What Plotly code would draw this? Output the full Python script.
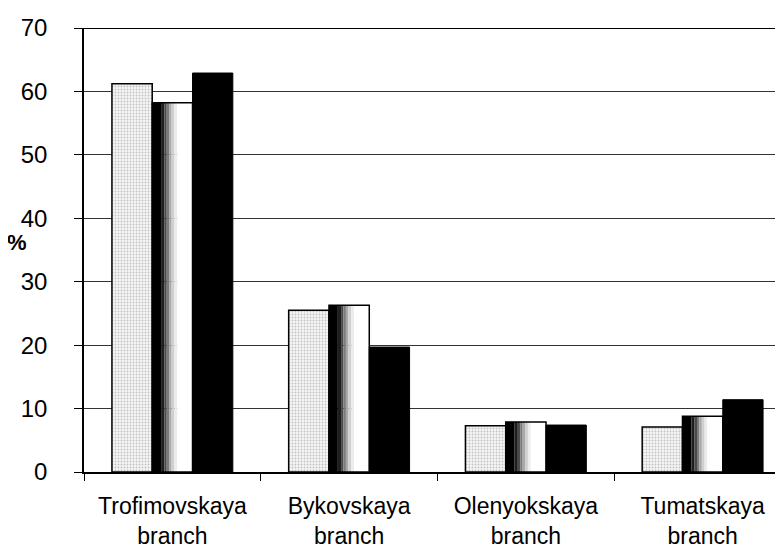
import plotly.graph_objects as go

categories = ["Trofimovskaya<br>branch", "Bykovskaya<br>branch", "Olenyokskaya<br>branch", "Tumatskaya<br>branch"]
series1 = [61.2, 25.5, 7.3, 7.1]
series2 = [58.2, 26.3, 7.9, 8.8]
series3 = [62.9, 19.7, 7.4, 11.4]
y_ticks = [0, 10, 20, 30, 40, 50, 60, 70]

BW = 0.228
FONT = "Liberation Sans, Arial, sans-serif"

fig = go.Figure()

# series 1: light dotted fill
fig.add_trace(go.Bar(
    x=categories, y=series1, width=BW, offset=-1.5 * BW,
    marker=dict(color="white",
                pattern=dict(shape=".", fgcolor="#8a8a8a", bgcolor="#f6f6f6", size=3, solidity=0.3),
                line=dict(color="black", width=1.5)),
    hoverinfo="y", showlegend=False))

# series 2: horizontal gradient from black (left) to white (right), drawn as slices
slices = [
    (0.00, 0.22, "#000000"),
    (0.22, 0.30, "#1e1e1e"),
    (0.30, 0.36, "#4a4a4a"),
    (0.36, 0.42, "#7a7a7a"),
    (0.42, 0.48, "#a8a8a8"),
    (0.48, 0.55, "#cfcfcf"),
    (0.55, 0.62, "#ececec"),
    (0.62, 1.00, "#ffffff"),
]
for a, b, col in slices:
    fig.add_trace(go.Bar(
        x=categories, y=series2, width=BW * (b - a), offset=-0.5 * BW + BW * a,
        marker=dict(color=col, line=dict(width=0)),
        hoverinfo="skip", showlegend=False))
fig.add_trace(go.Bar(
    x=categories, y=series2, width=BW, offset=-0.5 * BW,
    marker=dict(color="rgba(0,0,0,0)", line=dict(color="black", width=1.5)),
    hoverinfo="y", showlegend=False))

# series 3: black
fig.add_trace(go.Bar(
    x=categories, y=series3, width=BW, offset=0.5 * BW,
    marker=dict(color="black", line=dict(color="black", width=1)),
    hoverinfo="y", showlegend=False))

fig.update_layout(
    width=783, height=552,
    margin=dict(l=76, r=0, t=20, b=88),
    barmode="overlay",
    plot_bgcolor="white", paper_bgcolor="white",
    font=dict(family=FONT, size=23, color="black"),
    xaxis=dict(
        type="category", showgrid=False, showline=True, linecolor="black", linewidth=1.5,
        ticks="outside", tickson="boundaries", ticklen=7, tickcolor="black",
        ticklabelstandoff=13, tickfont=dict(size=23, family=FONT),
        range=[-0.5, 3.5], zeroline=False, automargin=False,
    ),
    yaxis=dict(
        range=[0, 70], tickvals=y_ticks, showgrid=True, gridcolor="#333333", gridwidth=1,
        showline=True, linecolor="black", linewidth=1.5, ticks="outside", ticklen=8,
        tickcolor="black", ticklabelstandoff=22, tickfont=dict(size=24, family=FONT),
        zeroline=False, automargin=False,
    ),
    annotations=[dict(
        text="<b>%</b>", xref="paper", yref="paper", x=-67 / 707, y=0.518,
        xanchor="center", yanchor="middle", showarrow=False,
        font=dict(size=22, family=FONT))],
)
fig.add_hline(y=70, line=dict(color="black", width=2))

fig.write_html("out.html")
